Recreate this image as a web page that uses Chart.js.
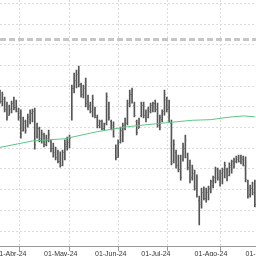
<!DOCTYPE html>
<html>
<head>
<meta charset="utf-8">
<script src="https://cdn.jsdelivr.net/npm/chart.js@4"></script>
<style>
  html, body { margin: 0; padding: 0; background: #fff; }
</style>
</head>
<body>
<canvas id="myChart" width="256" height="256"></canvas>
<script>
// trading-day index of the first bar shown (index 0 = first session of April)
const firstBar = 2;

// month tick positions (trading-day index) and their labels
const monthTickIdx = [0, 21, 43, 63, 86, 108, 130];
const monthLabels = ['01-Abr-24', '01-May-24', '01-Jun-24', '01-Jul-24', '01-Ago-24', '01-Sep-24', ''];

// OHLC values, one per session
const highs = [16.81, 16.71, 16.47, 16.23, 16.09, 16.28, 16.47, 16.33, 15.94, 15.85,
  15.51, 15.36, 15.65, 15.85, 15.89, 15.94, 15.22, 15.02, 14.88, 14.73,
  14.64, 14.88, 14.40, 14.25, 14.06, 13.91, 13.82, 13.91, 14.40, 14.54,
  14.64, 17.05, 17.63, 17.78, 17.97, 17.15, 17.05, 17.39, 16.57, 16.23,
  16.57, 15.99, 15.60, 15.36, 15.36, 15.22, 16.67, 16.23, 15.36, 15.27,
  14.16, 14.40, 15.02, 15.22, 15.46, 16.33, 16.81, 16.91, 16.23, 15.36,
  15.46, 16.23, 16.23, 15.85, 15.99, 16.18, 16.23, 16.33, 16.18, 15.60,
  15.85, 16.81, 16.47, 16.33, 15.36, 14.40, 13.91, 13.67, 13.67, 14.25,
  14.64, 13.77, 13.43, 13.19, 12.95, 12.71, 11.69, 12.08, 12.13, 12.08,
  12.17, 12.46, 12.66, 13.09, 13.04, 12.95, 13.04, 13.33, 13.04, 13.29,
  13.43, 13.53, 13.62, 13.67, 13.67, 13.62, 13.58, 12.46, 12.22, 12.37, 12.46];
const lows = [16.18, 16.04, 15.75, 15.36, 15.60, 15.70, 15.85, 15.75, 15.36, 14.49,
  14.83, 14.73, 15.02, 15.17, 15.27, 13.96, 14.49, 14.30, 14.25, 14.06,
  14.11, 14.30, 13.82, 13.57, 13.43, 13.29, 13.09, 13.14, 13.43, 13.91,
  14.01, 15.36, 16.67, 16.91, 16.96, 16.47, 16.43, 15.99, 15.85, 15.70,
  15.51, 15.46, 14.98, 14.98, 14.88, 14.88, 15.12, 15.36, 14.88, 14.54,
  13.43, 13.57, 14.25, 14.30, 14.88, 15.12, 15.99, 16.18, 15.51, 14.64,
  14.98, 15.51, 15.46, 15.27, 15.46, 15.70, 15.75, 15.75, 15.02, 14.88,
  15.27, 15.60, 15.75, 15.27, 13.19, 13.29, 13.04, 12.85, 12.46, 13.38,
  13.53, 12.95, 12.32, 12.46, 11.98, 11.64, 10.29, 11.11, 11.50, 11.40,
  11.50, 11.84, 12.08, 12.32, 12.46, 12.17, 12.27, 12.56, 12.42, 12.66,
  12.80, 13.04, 13.29, 13.33, 13.24, 13.14, 12.37, 11.59, 11.64, 11.74, 11.16];
const opens = [16.70, 16.30, 16.40, 15.90, 15.60, 15.90, 16.20, 16.00, 15.80, 15.50,
  14.90, 15.30, 15.10, 15.40, 15.70, 15.80, 14.60, 15.00, 14.40, 14.70,
  14.20, 14.40, 14.30, 14.00, 13.80, 13.60, 13.40, 13.20, 13.60, 14.10,
  14.30, 15.50, 16.90, 17.30, 17.60, 17.10, 16.60, 17.20, 16.30, 16.10,
  15.80, 15.90, 15.50, 15.10, 15.30, 15.00, 15.20, 16.10, 15.30, 15.10,
  14.00, 13.60, 14.30, 14.40, 15.00, 15.20, 16.10, 16.60, 16.10, 15.30,
  15.00, 15.60, 16.10, 15.60, 15.50, 15.80, 16.00, 16.20, 15.90, 15.20,
  15.40, 15.80, 16.40, 16.00, 15.20, 13.40, 13.80, 13.20, 13.00, 13.50,
  14.00, 13.60, 13.20, 12.60, 12.80, 12.20, 11.50, 11.30, 11.90, 11.60,
  11.90, 12.00, 12.20, 12.60, 12.90, 12.50, 12.80, 12.90, 13.00, 12.70,
  13.10, 13.30, 13.40, 13.50, 13.40, 13.50, 13.20, 12.30, 11.80, 12.10, 11.80];
const closes = [16.30, 16.60, 15.90, 15.50, 15.95, 16.20, 16.00, 15.80, 15.50, 14.70,
  15.30, 14.90, 15.50, 15.70, 15.80, 14.20, 15.00, 14.50, 14.70, 14.20,
  14.50, 14.70, 14.00, 13.70, 13.60, 13.40, 13.20, 13.80, 14.20, 14.40,
  14.50, 16.90, 17.50, 17.60, 17.10, 16.60, 16.90, 16.20, 16.00, 15.80,
  16.40, 15.60, 15.10, 15.30, 15.00, 15.10, 16.50, 15.50, 15.00, 14.60,
  13.60, 14.20, 14.90, 15.10, 15.40, 16.20, 16.60, 16.30, 15.60, 14.80,
  15.40, 16.10, 15.60, 15.40, 15.90, 16.10, 16.20, 15.90, 15.10, 15.50,
  15.80, 16.60, 15.90, 15.40, 13.30, 14.20, 13.20, 13.00, 12.60, 14.10,
  14.40, 13.10, 12.50, 13.00, 12.10, 11.80, 11.40, 11.90, 11.60, 12.00,
  12.10, 12.40, 12.60, 13.00, 12.60, 12.80, 13.00, 13.20, 12.60, 13.20,
  13.40, 13.50, 13.60, 13.40, 13.60, 13.20, 12.50, 11.70, 12.10, 11.90, 11.30];

// moving average, read at a few sessions
const maIdx = [2, 16, 30, 44, 57, 71, 85, 93, 100, 107, 112];
const maVals = [14.04, 14.35, 14.46, 14.80, 15.04, 15.20, 15.35, 15.38, 15.49, 15.56, 15.52];

// dashed reference level
const levelValue = 19.25;

const lastBar = firstBar + highs.length - 1;

const bars = highs.map((h, i) => ({ x: firstBar + i, y: [lows[i], h] }));
const maPoints = maIdx.map((x, i) => ({ x: x, y: maVals[i] }));
const levelPoints = [{ x: firstBar, y: levelValue }, { x: lastBar + 1, y: levelValue }];

// draws the open (left) and close (right) ticks of each bar
const ohlcTicks = {
    id: 'ohlcTicks',
    afterDatasetsDraw(chart) {
        const { ctx, scales: { x, y } } = chart;
        ctx.save();
        ctx.strokeStyle = '#666';
        ctx.lineWidth = 1;
        ctx.beginPath();
        opens.forEach((o, i) => {
            const px = x.getPixelForValue(firstBar + i);
            const po = Math.round(y.getPixelForValue(o)) + 0.5;
            const pc = Math.round(y.getPixelForValue(closes[i])) + 0.5;
            ctx.moveTo(px - 1, po); ctx.lineTo(px, po);
            ctx.moveTo(px, pc); ctx.lineTo(px + 1, pc);
        });
        ctx.stroke();
        ctx.restore();
    }
};

const ctx = document.getElementById('myChart').getContext('2d');
new Chart(ctx, {
    type: 'bar',
    data: {
        datasets: [
            {
                type: 'line',
                data: maPoints,
                borderColor: '#5cc785',
                borderWidth: 1,
                pointRadius: 0,
                order: 0
            },
            {
                type: 'line',
                data: levelPoints,
                borderColor: '#c6c6c6',
                borderWidth: 3,
                borderDash: [6, 3],
                pointRadius: 0,
                order: 1
            },
            {
                type: 'bar',
                data: bars,
                backgroundColor: '#555',
                borderWidth: 0,
                barThickness: 1,
                order: 2
            }
        ]
    },
    options: {
        responsive: false,
        animation: false,
        plugins: {
            legend: { display: false },
            tooltip: { enabled: false }
        },
        scales: {
            x: {
                type: 'linear',
                min: 2,
                max: 112.5,
                offset: false,
                afterBuildTicks: (scale) => {
                    scale.ticks = monthTickIdx.map(v => ({ value: v }));
                },
                afterFit: (scale) => {
                    // let the labels run past the edges like the original
                    scale.paddingLeft = 0;
                    scale.paddingRight = 0;
                },
                ticks: {
                    callback: (value, index) => monthLabels[index],
                    align: 'start',
                    autoSkip: false,
                    maxRotation: 0,
                    padding: -3,
                    color: '#333',
                    font: { family: 'Liberation Sans', size: 7, lineHeight: 1.55 }
                },
                grid: {
                    color: '#dcdcdc',
                    tickColor: '#999',
                    tickLength: 5
                },
                border: { color: '#999', dash: [2, 2] }
            },
            y: {
                min: 9.27,
                max: 21.16,
                ticks: { display: false, stepSize: 1, includeBounds: false },
                grid: { color: '#dcdcdc', drawTicks: false },
                border: { display: false, dash: [2, 2] }
            }
        }
    },
    plugins: [ohlcTicks]
});
</script>
</body>
</html>
